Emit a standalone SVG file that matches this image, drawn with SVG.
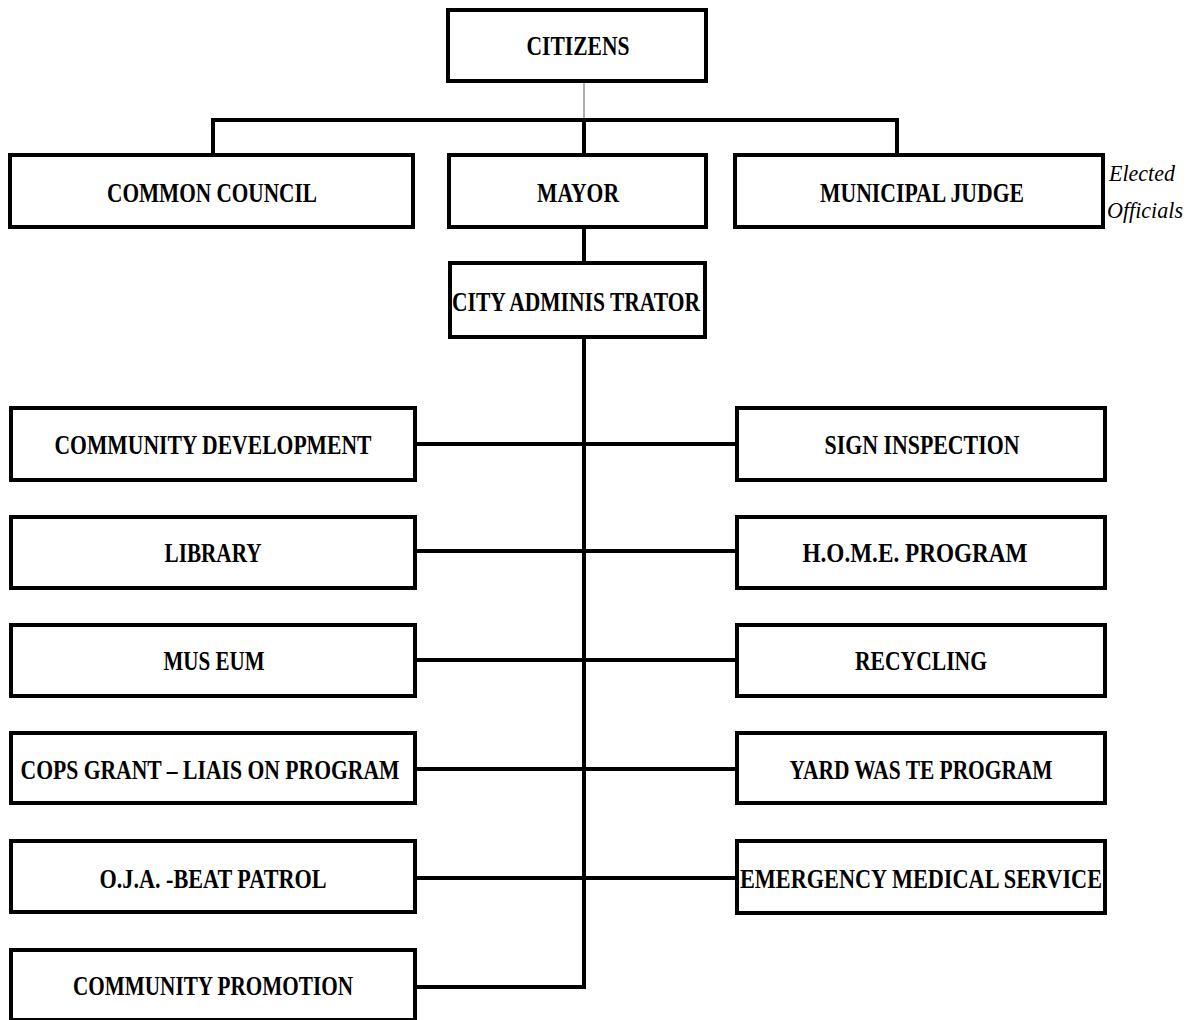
<svg xmlns="http://www.w3.org/2000/svg" width="1194" height="1020" viewBox="0 0 1194 1020">
<style>
.box{fill:#fff;stroke:#000;stroke-width:4}
.t{font-family:"Liberation Serif","Times New Roman",serif;font-weight:bold;font-size:27px;fill:#000;text-anchor:middle}
.c{fill:none;stroke:#000;stroke-width:4}
.it{font-family:"Liberation Serif","Times New Roman",serif;font-style:italic;font-size:24px;fill:#000}
</style>
<rect width="1194" height="1020" fill="#fff"/>
<g id="connectors">
<line x1="584" y1="81" x2="584" y2="120" stroke="#777" stroke-width="1.2"/>
<polyline class="c" points="213,155 213,120 897,120 897,155"/>
<line class="c" x1="584" y1="120" x2="584" y2="155"/>
<line class="c" x1="584" y1="227" x2="584" y2="263"/>
<polyline class="c" points="584,337 584,987 415,987"/>
<line class="c" x1="415" y1="444" x2="737" y2="444"/>
<line class="c" x1="415" y1="551" x2="737" y2="551"/>
<line class="c" x1="415" y1="660" x2="737" y2="660"/>
<line class="c" x1="415" y1="769" x2="737" y2="769"/>
<line class="c" x1="415" y1="878" x2="737" y2="878"/>
</g>
<g id="citizens"><rect class="box" x="448" y="10" width="258" height="71"/><text class="t" x="578" y="55" textLength="103" lengthAdjust="spacingAndGlyphs">CITIZENS</text></g>
<g id="common-council"><rect class="box" x="10" y="155" width="403" height="72"/><text class="t" x="212" y="202" textLength="210" lengthAdjust="spacingAndGlyphs">COMMON COUNCIL</text></g>
<g id="mayor"><rect class="box" x="449" y="155" width="257" height="72"/><text class="t" x="578" y="202" textLength="82" lengthAdjust="spacingAndGlyphs">MAYOR</text></g>
<g id="municipal-judge"><rect class="box" x="735" y="155" width="368" height="72"/><text class="t" x="922" y="202" textLength="204" lengthAdjust="spacingAndGlyphs">MUNICIPAL JUDGE</text></g>
<g id="elected-officials"><text class="it" x="1109" y="181" textLength="66" lengthAdjust="spacingAndGlyphs">Elected</text><text class="it" x="1107" y="218" textLength="76" lengthAdjust="spacingAndGlyphs">Officials</text></g>
<g id="city-administrator"><rect class="box" x="450" y="263" width="255" height="74"/><text class="t" x="576" y="311" textLength="248" lengthAdjust="spacingAndGlyphs">CITY ADMINIS TRATOR</text></g>
<g id="community-development"><rect class="box" x="11" y="408" width="404" height="72"/><text class="t" x="213" y="454" textLength="317" lengthAdjust="spacingAndGlyphs">COMMUNITY DEVELOPMENT</text></g>
<g id="sign-inspection"><rect class="box" x="737" y="408" width="368" height="72"/><text class="t" x="922" y="454" textLength="195" lengthAdjust="spacingAndGlyphs">SIGN INSPECTION</text></g>
<g id="library"><rect class="box" x="11" y="517" width="404" height="71"/><text class="t" x="213" y="562" textLength="97" lengthAdjust="spacingAndGlyphs">LIBRARY</text></g>
<g id="home-program"><rect class="box" x="737" y="517" width="368" height="71"/><text class="t" x="915" y="562" textLength="225" lengthAdjust="spacingAndGlyphs">H.O.M.E. PROGRAM</text></g>
<g id="museum"><rect class="box" x="11" y="625" width="404" height="71"/><text class="t" x="214" y="670" textLength="101" lengthAdjust="spacingAndGlyphs">MUS EUM</text></g>
<g id="recycling"><rect class="box" x="737" y="625" width="368" height="71"/><text class="t" x="921" y="670" textLength="132" lengthAdjust="spacingAndGlyphs">RECYCLING</text></g>
<g id="cops-grant"><rect class="box" x="11" y="733" width="404" height="70"/><text class="t" x="210" y="779" textLength="379" lengthAdjust="spacingAndGlyphs">COPS GRANT – LIAIS ON PROGRAM</text></g>
<g id="yard-waste"><rect class="box" x="737" y="733" width="368" height="70"/><text class="t" x="921" y="779" textLength="263" lengthAdjust="spacingAndGlyphs">YARD WAS TE PROGRAM</text></g>
<g id="oja-beat-patrol"><rect class="box" x="11" y="841" width="404" height="71"/><text class="t" x="213" y="888" textLength="227" lengthAdjust="spacingAndGlyphs">O.J.A. -BEAT PATROL</text></g>
<g id="ems"><rect class="box" x="737" y="841" width="368" height="72"/><text class="t" x="921" y="888" textLength="362" lengthAdjust="spacingAndGlyphs">EMERGENCY MEDICAL SERVICE</text></g>
<g id="community-promotion"><rect class="box" x="11" y="950" width="404" height="70"/><text class="t" x="213" y="995" textLength="280" lengthAdjust="spacingAndGlyphs">COMMUNITY PROMOTION</text></g>
</svg>
